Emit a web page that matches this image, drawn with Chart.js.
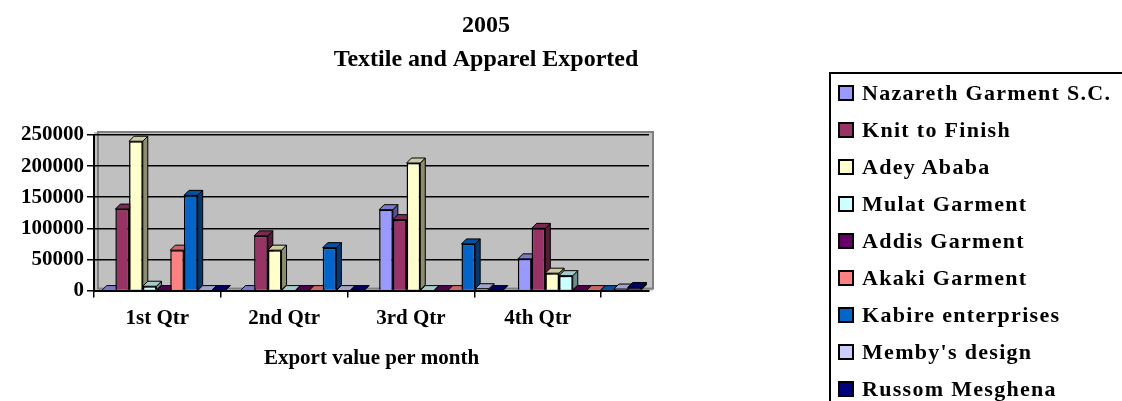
<!DOCTYPE html>
<html>
<head>
<meta charset="utf-8">
<script src="https://cdn.jsdelivr.net/npm/chart.js@4/dist/chart.umd.min.js"></script>
<style>
  body { margin: 0; background: #fff; overflow: hidden; width: 1122px; height: 401px; position: relative; }
  #wrap { position: absolute; left: 0; top: 0; width: 954px; height: 401px; }
  #legend {
    position: absolute; left: 829px; top: 72px; width: 320px; height: 360px;
    border: 2px solid #000; font: bold 22px "Liberation Serif", "Times New Roman", serif;
    letter-spacing: 1.3px; color: #000; padding-top: 0;
  }
  #legend div { height: 37px; line-height: 37px; white-space: nowrap; padding-left: 7px; }
  #legend span { display: inline-block; width: 12px; height: 12px; border: 2px solid #000;
    vertical-align: middle; margin-right: 8px; position: relative; top: -2px; }
</style>
</head>
<body>
<div id="wrap"><canvas id="exports" width="954" height="401"></canvas></div>
<div id="legend"></div>
<script>
/* donnees */
const categories = ["1st Qtr", "2nd Qtr", "3rd Qtr", "4th Qtr"];
const nazareth = [0, 0, 130000, 51000];
const knitToFinish = [131000, 88000, 114000, 100000];
const adeyAbaba = [240000, 65000, 205000, 28000];
const mulat = [7000, 0, 0, 24000];
const addis = [0, 0, 0, 0];
const akaki = [65000, 0, 0, 0];
const kabire = [153000, 69000, 75000, 0];
const memby = [0, 0, 3000, 2500];
const russom = [0, 0, 0, 5000];
const yTicks = [0, 50000, 100000, 150000, 200000, 250000];

const seriesNames = [
  "Nazareth Garment S.C.",
  "Knit to Finish",
  "Adey Ababa",
  "Mulat Garment",
  "Addis Garment",
  "Akaki Garment",
  "Kabire enterprises",
  "Memby's design",
  "Russom Mesghena",
];
const seriesValues = [nazareth, knitToFinish, adeyAbaba, mulat, addis, akaki, kabire, memby, russom];
const palette = ["#9999FF", "#993366", "#FFFFCC", "#CCFFFF", "#660066", "#FF8080", "#0066CC", "#CCCCFF", "#000080"];

const serif = "'Liberation Serif', 'Times New Roman', serif";

function shade(hex, f) {
  const n = parseInt(hex.slice(1), 16);
  const r = Math.round(((n >> 16) & 255) * f);
  const g = Math.round(((n >> 8) & 255) * f);
  const b = Math.round((n & 255) * f);
  return "rgb(" + r + "," + g + "," + b + ")";
}

/* fond gris de la zone de tracé */
const plotBackground = {
  id: "plotBackground",
  beforeDraw(chart) {
    const { ctx, chartArea: a } = chart;
    ctx.save();
    ctx.fillStyle = "#C0C0C0";
    ctx.fillRect(a.left, a.top - 3, a.right - a.left + 4, a.bottom - a.top + 3);
    ctx.strokeStyle = "#808080";
    ctx.lineWidth = 2;
    ctx.strokeRect(a.left + 4, a.top - 3, a.right - a.left, a.bottom - a.top + 1);
    ctx.restore();
  },
};

/* effet 3D : faces du dessus et de droite des barres */
const depth = 5;
const bars3d = {
  id: "bars3d",
  beforeDatasetsDraw(chart) {
    const ctx = chart.ctx;
    ctx.save();
    ctx.lineWidth = 1;
    ctx.strokeStyle = "#000";
    chart.data.datasets.forEach((ds, i) => {
      const meta = chart.getDatasetMeta(i);
      meta.data.forEach((bar) => {
        const { x, y, base, width } = bar.getProps(["x", "y", "base", "width"], true);
        const l = x - width / 2, r = x + width / 2;
        // face droite
        ctx.fillStyle = shade(palette[i], 0.55);
        ctx.beginPath();
        ctx.moveTo(r, y);
        ctx.lineTo(r + depth, y - depth);
        ctx.lineTo(r + depth, base - depth);
        ctx.lineTo(r, base);
        ctx.closePath();
        ctx.fill();
        ctx.stroke();
        // face du dessus
        ctx.fillStyle = shade(palette[i], 0.8);
        ctx.beginPath();
        ctx.moveTo(l, y);
        ctx.lineTo(l + depth, y - depth);
        ctx.lineTo(r + depth, y - depth);
        ctx.lineTo(r, y);
        ctx.closePath();
        ctx.fill();
        ctx.stroke();
      });
    });
    ctx.restore();
  },
};

const graph = document.getElementById("exports");

const chart = new Chart(graph, {
  type: "bar",
  data: {
    labels: categories,
    datasets: seriesNames.map((name, i) => ({
      label: name,
      data: seriesValues[i],
      backgroundColor: palette[i],
      borderColor: "#000",
      borderWidth: 1.5,
      categoryPercentage: 0.89,
      barPercentage: 1.0,
    })),
  },
  options: {
    responsive: false,
    animation: false,
    layout: { padding: { left: 18, right: 0, top: 0, bottom: 26 } },
    plugins: {
      legend: { display: false },
      tooltip: { enabled: false },
      title: {
        display: true,
        text: ["2005", "Textile and Apparel Exported"],
        color: "#000",
        font: { family: serif, size: 24, weight: "bold", lineHeight: 34 / 24 },
        padding: { top: 9, bottom: 58 },
      },
    },
    scales: {
      x: {
        type: "category",
        display: false,
        offset: true,
      },
      // axe avant (etiquettes des trimestres), plus court que le fond 3D
      xLabels: {
        type: "linear",
        position: "bottom",
        offset: false,
        bounds: "data",
        min: 0,
        max: (4 * 139) / 127,
        afterBuildTicks: (scale) => {
          const t = [];
          for (let v = 0; v <= 4; v += 0.5) t.push({ value: v });
          scale.ticks = t;
        },
        ticks: {
          autoSkip: false,
          maxRotation: 0,
          padding: 8,
          color: "#000",
          font: { family: serif, size: 21, weight: "bold" },
          callback: (v) => (Number.isInteger(v) ? "" : categories[Math.floor(v)]),
        },
        grid: {
          offset: false,
          drawOnChartArea: false,
          tickLength: 7,
          lineWidth: 1.5,
          tickColor: (c) => (c.tick && Number.isInteger(c.tick.value) ? "#000" : "rgba(0,0,0,0)"),
        },
        border: { display: true, color: "#000", width: 2 },
        title: {
          display: true,
          text: "Export value per month",
          color: "#000",
          font: { family: serif, size: 21, weight: "bold" },
          padding: { top: 7, bottom: 4 },
        },
      },
      y: {
        min: 0,
        max: 250000,
        afterBuildTicks: (scale) => {
          scale.ticks = yTicks.map((v) => ({ value: v }));
        },
        ticks: {
          padding: 3,
          color: "#000",
          font: { family: serif, size: 21, weight: "bold" },
          callback: (v) => String(v),
        },
        grid: { color: "#000", lineWidth: 1.5, tickLength: 7, tickColor: "#000" },
        border: { display: true, color: "#000", width: 2 },
      },
      pad: {
        type: "linear",
        position: "right",
        grid: { display: false },
        ticks: { display: false },
        border: { display: false },
        afterFit: (scale) => {
          scale.width = 305;
        },
      },
    },
  },
  plugins: [plotBackground, bars3d],
});

/* legende HTML a partir des series */
const legend = document.getElementById("legend");
chart.data.datasets.forEach((ds) => {
  const row = document.createElement("div");
  const box = document.createElement("span");
  box.style.background = ds.backgroundColor;
  row.appendChild(box);
  row.appendChild(document.createTextNode(ds.label));
  legend.appendChild(row);
});
</script>
</body>
</html>
